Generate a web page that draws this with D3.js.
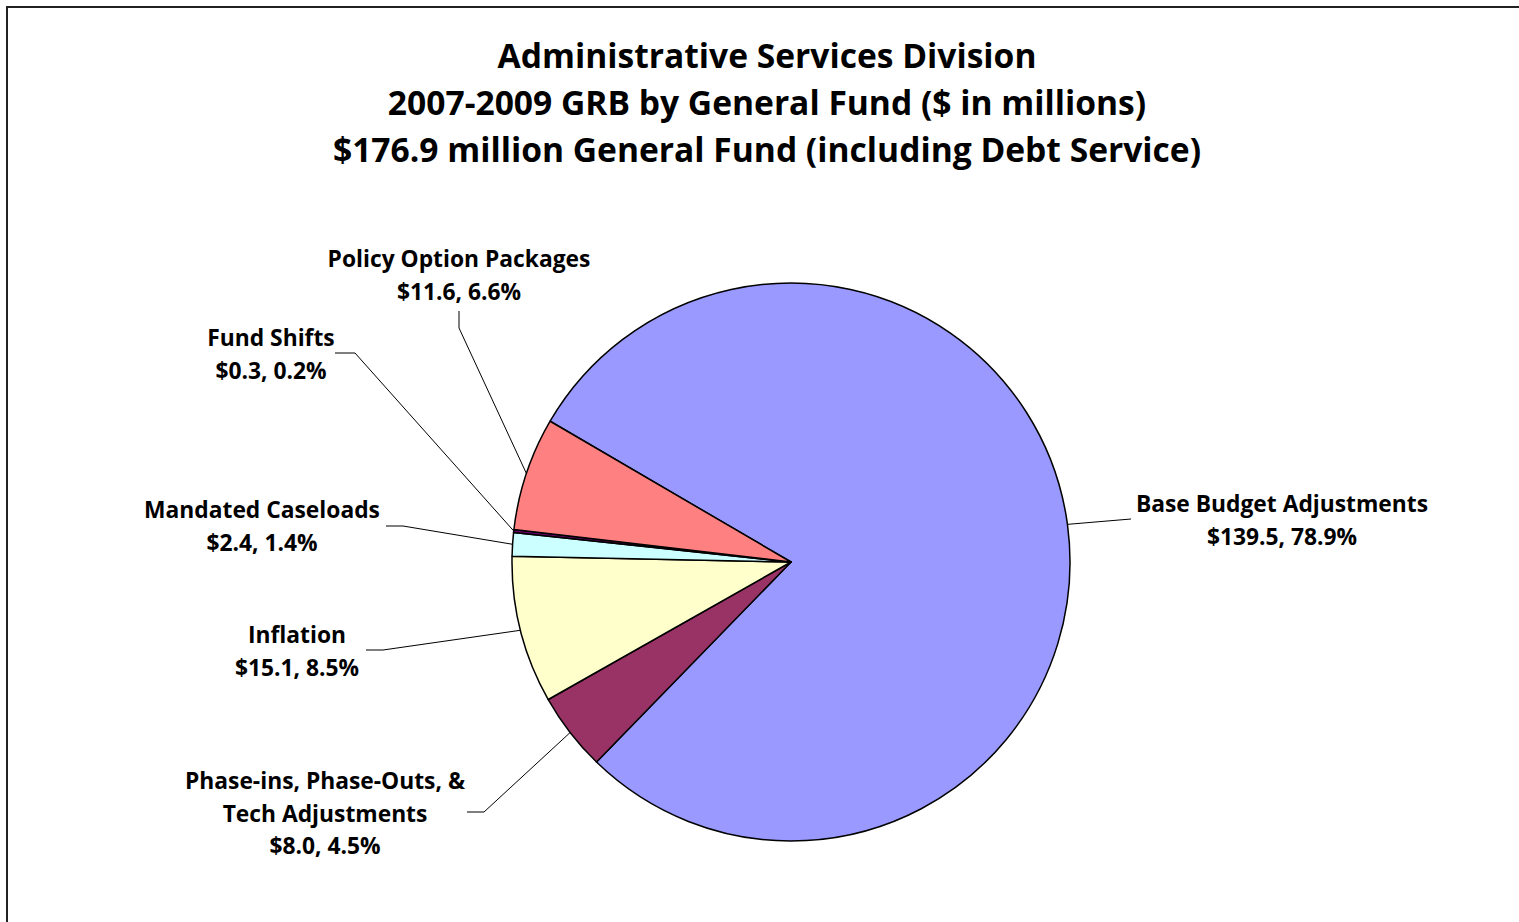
<!DOCTYPE html>
<html>
<head>
<meta charset="utf-8">
<script src="https://cdn.jsdelivr.net/npm/d3@7"></script>
<style>
  html, body { margin: 0; padding: 0; background: #fff; }
  svg { display: block; }
  text { font-family: "Open Sans", "Liberation Sans", sans-serif; font-weight: bold; fill: #000; }
</style>
</head>
<body>
<script>
// General Fund components, $ in millions
const categories = [
  "Base Budget Adjustments",
  "Phase-ins, Phase-Outs, & Tech Adjustments",
  "Inflation",
  "Mandated Caseloads",
  "Fund Shifts",
  "Policy Option Packages"
];
const values = [139.5, 8.0, 15.1, 2.4, 0.3, 11.6];
const percentLabels = ["78.9%", "4.5%", "8.5%", "1.4%", "0.2%", "6.6%"];
const sliceColors = ["#9999FF", "#993366", "#FFFFCC", "#CCFFFF", "#660066", "#FF8080"];
const titleLines = [
  "Administrative Services Division",
  "2007-2009 GRB by General Fund ($ in millions)",
  "$176.9 million General Fund (including Debt Service)"
];

const W = 1519, H = 922;
const cx = 791, cy = 562, R = 279;
const startDeg = -59.7;

// Label blocks: text centre, first baseline, line breaks, and leader elbow
const labelLayout = [
  { x: 1282, y: 512, lines: ["Base Budget Adjustments"], lead: [[1131, 519]] },
  { x: 325, y: 789, lines: ["Phase-ins, Phase-Outs, &", "Tech Adjustments"], lead: [[467, 812], [484, 812]] },
  { x: 297, y: 643, lines: ["Inflation"], lead: [[366, 650], [383, 650]] },
  { x: 262, y: 518, lines: ["Mandated Caseloads"], lead: [[386, 526], [403, 526]] },
  { x: 271, y: 346, lines: ["Fund Shifts"], lead: [[335, 353], [355, 353]] },
  { x: 459, y: 267, lines: ["Policy Option Packages"], lead: [[459, 311], [459, 328]] }
];

const svg = d3.select("body").append("svg").attr("width", W).attr("height", H);
svg.append("rect").attr("width", W).attr("height", H).attr("fill", "#fff");

// Chart frame
svg.append("rect")
  .attr("x", 7).attr("y", 7).attr("width", W + 20).attr("height", H + 20)
  .attr("fill", "none").attr("stroke", "#222").attr("stroke-width", 2);

// Title
svg.append("g").selectAll("text").data(titleLines).join("text")
  .attr("x", 767).attr("y", (d, i) => 68 + i * 47)
  .attr("text-anchor", "middle").attr("font-size", 33.6)
  .text(d => d);

const rad = Math.PI / 180;
const pie = d3.pie().sort(null).value(d => d)
  .startAngle(startDeg * rad).endAngle((startDeg + 360) * rad);
const arcs = pie(values);
const arc = d3.arc().innerRadius(0).outerRadius(R);

const g = svg.append("g").attr("transform", `translate(${cx},${cy})`);
g.selectAll("path").data(arcs).join("path")
  .attr("d", arc)
  .attr("fill", (d, i) => sliceColors[i])
  .attr("stroke", "#000").attr("stroke-width", 1.5).attr("stroke-linejoin", "round");

// Leader lines from label to slice edge at mid-angle
const fmt = d3.format(".1f");
arcs.forEach((a, i) => {
  const mid = (a.startAngle + a.endAngle) / 2;
  const ex = cx + R * Math.sin(mid), ey = cy - R * Math.cos(mid);
  const pts = labelLayout[i].lead.concat([[ex, ey]]);
  svg.append("path")
    .attr("d", d3.line()(pts))
    .attr("fill", "none").attr("stroke", "#000").attr("stroke-width", 1);

  const L = labelLayout[i];
  const lines = L.lines.concat(["$" + fmt(values[i]) + ", " + percentLabels[i]]);
  svg.append("g").selectAll("text").data(lines).join("text")
    .attr("x", L.x).attr("y", (d, j) => L.y + j * 32.5)
    .attr("text-anchor", "middle").attr("font-size", 22.8)
    .text(d => d);
});
</script>
</body>
</html>
